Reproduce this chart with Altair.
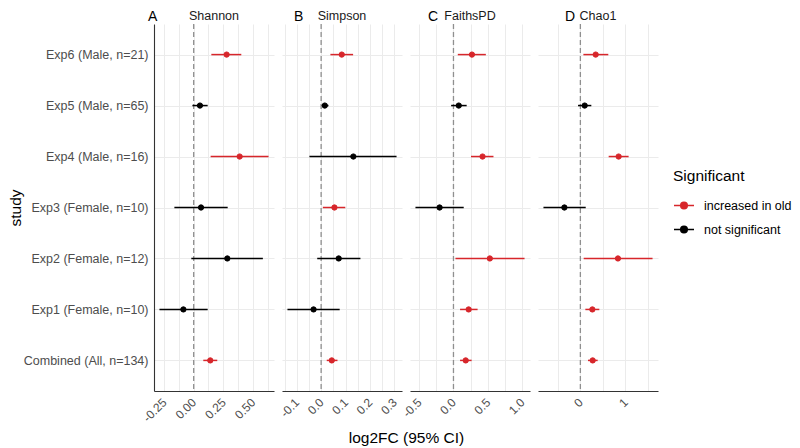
import altair as alt
import pandas as pd

# ---------------- data ----------------
studies = [
    "Exp6 (Male, n=21)",
    "Exp5 (Male, n=65)",
    "Exp4 (Male, n=16)",
    "Exp3 (Female, n=10)",
    "Exp2 (Female, n=12)",
    "Exp1 (Female, n=10)",
    "Combined (All, n=134)",
]
metrics = ["Shannon", "Simpson", "FaithsPD", "Chao1"]
tags = ["A", "B", "C", "D"]
UP = "increased in old"
NS = "not significant"
sig_levels = [UP, NS]
sig_colors = ["#D7262B", "#000000"]

shannon_est = [0.278, 0.053, 0.388, 0.062, 0.284, -0.087, 0.140]
shannon_lo = [0.149, -0.011, 0.143, -0.163, -0.020, -0.289, 0.081]
shannon_hi = [0.402, 0.118, 0.632, 0.287, 0.584, 0.118, 0.199]
shannon_sig = [UP, NS, UP, NS, NS, NS, UP]

simpson_est = [0.0845, 0.015, 0.132, 0.0545, 0.072, -0.031, 0.0436]
simpson_lo = [0.038, 0.003, -0.048, 0.007, -0.016, -0.138, 0.023]
simpson_hi = [0.131, 0.030, 0.309, 0.099, 0.161, 0.076, 0.067]
simpson_sig = [UP, NS, NS, UP, NS, NS, UP]

faith_est = [0.269, 0.077, 0.423, -0.202, 0.529, 0.221, 0.178]
faith_lo = [0.063, -0.034, 0.255, -0.553, 0.029, 0.096, 0.096]
faith_hi = [0.471, 0.192, 0.582, 0.149, 1.034, 0.351, 0.264]
faith_sig = [UP, NS, UP, NS, UP, UP, UP]

chao_est = [0.341, 0.096, 0.852, -0.356, 0.837, 0.267, 0.274]
chao_lo = [0.067, -0.052, 0.630, -0.822, 0.074, 0.111, 0.170]
chao_hi = [0.622, 0.244, 1.074, 0.119, 1.607, 0.422, 0.385]
chao_sig = [UP, NS, UP, NS, UP, UP, UP]

# tick labels (major) and grid positions (major + minor)
shannon_ticks = [-0.25, 0.0, 0.25, 0.5]
shannon_grid = [-0.25, -0.125, 0.0, 0.125, 0.25, 0.375, 0.5, 0.625]
simpson_ticks = [-0.1, 0.0, 0.1, 0.2, 0.3]
simpson_grid = [-0.15, -0.1, -0.05, 0.0, 0.05, 0.1, 0.15, 0.2, 0.25, 0.3]
faith_ticks = [-0.5, 0.0, 0.5, 1.0]
faith_grid = [-0.5, -0.25, 0.0, 0.25, 0.5, 0.75, 1.0]
chao_ticks = [0, 1]
chao_grid = [-0.5, 0, 0.5, 1, 1.5]

panels = [
    dict(est=shannon_est, lo=shannon_lo, hi=shannon_hi, sig=shannon_sig,
         ticks=shannon_ticks, grid=shannon_grid, fmt=".2f", tag_dx=-6),
    dict(est=simpson_est, lo=simpson_lo, hi=simpson_hi, sig=simpson_sig,
         ticks=simpson_ticks, grid=simpson_grid, fmt=".1f", tag_dx=12),
    dict(est=faith_est, lo=faith_lo, hi=faith_hi, sig=faith_sig,
         ticks=faith_ticks, grid=faith_grid, fmt=".1f", tag_dx=18),
    dict(est=chao_est, lo=chao_lo, hi=chao_hi, sig=chao_sig,
         ticks=chao_ticks, grid=chao_grid, fmt="d", tag_dx=27),
]

# ---------------- style ----------------
PW, PH = 120, 367
GRID = "#EBEBEB"
AXC = "#333333"
TXT = "#4D4D4D"
LEG_PATH = "M-1,0L1,0M0.33,0A0.33,0.33,0,1,1,-0.33,0A0.33,0.33,0,1,1,0.33,0Z"

# legend scales (fill/stroke of points) and a separate scale for CI rules
color_scale = alt.Scale(domain=sig_levels, range=sig_colors)
rule_scale = alt.Scale(domain=sig_levels[::-1], range=sig_colors[::-1])
y_scale = alt.Scale(type="point", domain=studies, padding=0.6)


def legend():
    return alt.Legend(
        title="Significant", orient="none", legendX=519, legendY=145,
        symbolType=LEG_PATH, symbolSize=400, symbolStrokeWidth=1.5,
        labelFontSize=12.5, labelColor="black", labelOffset=9,
        titleFontSize=15.5, titleFontWeight="normal", titleColor="black",
        titlePadding=10, rowPadding=6, padding=0,
    )


charts = []
for i, p in enumerate(panels):
    df = pd.DataFrame({"study": studies, "est": p["est"], "lo": p["lo"],
                       "hi": p["hi"], "sig": p["sig"]})
    span = max(p["hi"]) - min(p["lo"])
    dom = [min(p["lo"]) - 0.05 * span, max(p["hi"]) + 0.05 * span]
    xs = alt.Scale(domain=dom, nice=False, zero=False)

    cond = " || ".join(f"abs(datum.value - ({v})) < 1e-9" for v in p["ticks"])
    label_expr = f"({cond}) ? format(datum.value, '{p['fmt']}') : ''"

    def xaxis():
        kw = dict(
            values=p["grid"], labelExpr=label_expr, labelAngle=-45,
            labelAlign="right", labelBaseline="middle", labelPadding=9,
            labelFlush=False, labelOverlap=False, ticks=False,
            domain=True, domainColor=AXC, domainWidth=1.1,
            grid=True, gridColor=GRID, gridWidth=1,
            labelFontSize=12, labelColor=TXT,
        )
        if i == 1:
            kw.update(title="log2FC (95% CI)", titleX=124, titleY=51,
                      titleAlign="center", titleBaseline="alphabetic",
                      titleFontSize=15.5, titleFontWeight="normal",
                      titleColor="black")
        else:
            kw.update(title=None)
        return alt.Axis(**kw)

    def yaxis():
        if i == 0:
            return alt.Axis(
                title="study", labelFontSize=12.5, labelColor=TXT, labelPadding=6,
                ticks=False, domain=True, domainColor=AXC, domainWidth=1.1,
                grid=True, gridColor=GRID, titleFontSize=15.5,
                titleFontWeight="normal", titleColor="black", titlePadding=0,
                labelLimit=300,
            )
        return alt.Axis(labels=False, ticks=False, domain=False, title=None,
                        grid=True, gridColor=GRID)

    zero = alt.Chart(pd.DataFrame({"z": [0.0]})).mark_rule(
        color="#8F8F8F", strokeDash=[5, 3], strokeWidth=1.3
    ).encode(x=alt.X("z:Q", scale=xs, axis=xaxis()))

    base = alt.Chart(df)
    ci = base.mark_rule(strokeWidth=1.5).encode(
        x=alt.X("lo:Q", scale=xs, axis=xaxis()),
        x2="hi:Q",
        y=alt.Y("study:N", scale=y_scale, axis=yaxis()),
        color=alt.Color("sig:N", scale=rule_scale, legend=None),
    )
    pts = base.mark_point(filled=True, size=28, strokeWidth=1, opacity=1).encode(
        x=alt.X("est:Q", scale=xs, axis=xaxis()),
        y=alt.Y("study:N", scale=y_scale, axis=yaxis()),
        fill=alt.Fill("sig:N", scale=color_scale, legend=legend()),
        stroke=alt.Stroke("sig:N", scale=color_scale, legend=legend()),
    )
    tag = alt.Chart(pd.DataFrame({"t": [tags[i]]})).mark_text(
        align="left", baseline="alphabetic", fontSize=14, color="black"
    ).encode(text="t:N", x=alt.value(p["tag_dx"]), y=alt.value(-3))
    strip = alt.Chart(pd.DataFrame({"t": [metrics[i]]})).mark_text(
        align="center", baseline="alphabetic", fontSize=12.5, color="#1A1A1A"
    ).encode(text="t:N", x=alt.value(PW / 2), y=alt.value(-4))

    charts.append(alt.layer(zero, ci, pts, tag, strip).properties(width=PW, height=PH))

chart = (
    alt.hconcat(*charts, spacing=8, bounds="flush")
    .resolve_scale(x="independent", y="shared", color="shared",
                   fill="shared", stroke="shared")
    .resolve_legend(fill="shared", stroke="shared")
    .properties(padding={"left": 0, "top": 2, "right": 0, "bottom": 0})
    .configure(font="Liberation Sans",
               locale={"number": {"decimal": ".", "thousands": ",",
                                  "grouping": [3], "currency": ["$", ""],
                                  "minus": "-"}})
    .configure_view(stroke=None)
)

chart.save("out.html", embed_options={"renderer": "svg", "actions": False})
